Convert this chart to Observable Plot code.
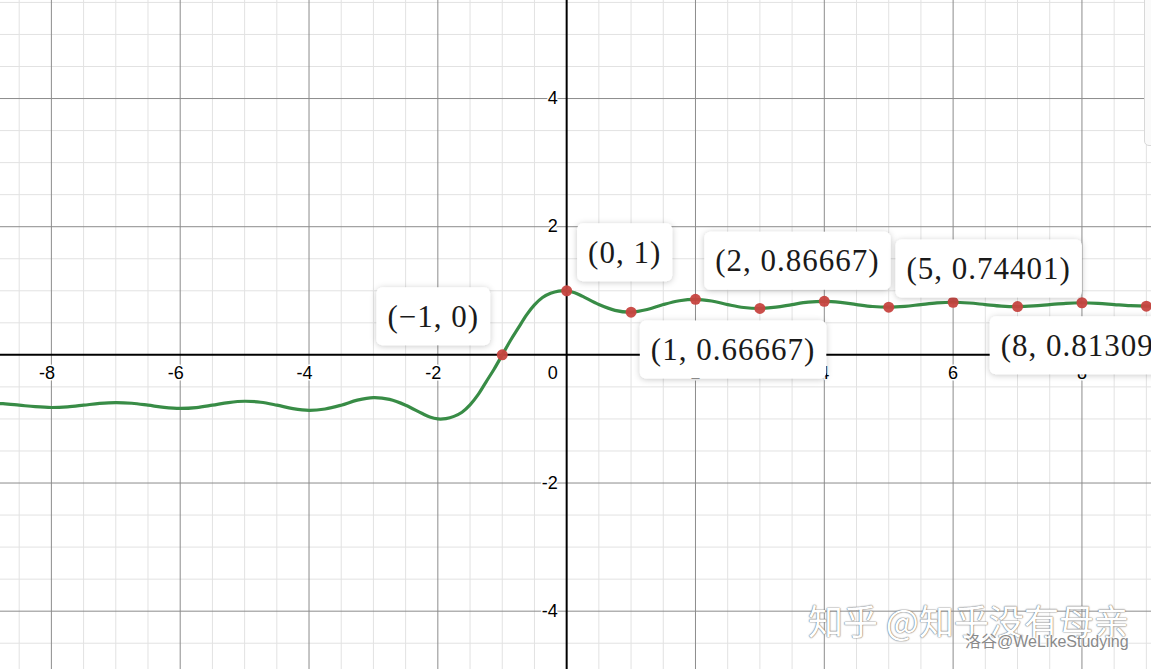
<!DOCTYPE html>
<html><head><meta charset="utf-8">
<script src="https://cdn.jsdelivr.net/npm/d3@7"></script>
<script src="https://cdn.jsdelivr.net/npm/@observablehq/plot@0.6"></script>
<style>
html,body{margin:0;padding:0;background:#fff;overflow:hidden;}
#chart{position:relative;width:1151px;height:669px;overflow:hidden;}
#chart svg{display:block;}
.wm-big{position:absolute;left:808px;top:602px;font-family:"Noto Sans CJK SC",sans-serif;font-size:35px;line-height:1;color:#fff;text-shadow:0 0 1.5px #555,0 0 1px #888;white-space:nowrap;}
.wm-small{position:absolute;left:965px;top:632px;font-family:"Liberation Sans","Noto Sans CJK SC",sans-serif;font-size:16px;line-height:1.2;color:#8a8a8a;text-shadow:0 0 2px #fff,0 0 2px #fff;white-space:nowrap;}
.sidebar{position:absolute;left:1144px;top:-6px;width:10px;height:150px;border:1px solid #d8d8d8;border-radius:5px;background:#fafafa;}
</style></head><body><div id="chart"></div>
<script>
// Curve samples
const curveX = [-9,-8.75,-8.5,-8.25,-8,-7.75,-7.5,-7.25,-7,-6.75,-6.5,-6.25,-6,-5.75,-5.5,-5.25,-5,-4.75,-4.5,-4.25,-4,-3.75,-3.5,-3.25,-3,-2.75,-2.5,-2.25,-2.125,-2,-1.875,-1.75,-1.625,-1.5,-1.375,-1.25,-1.125,-1,-0.875,-0.75,-0.625,-0.5,-0.375,-0.25,-0.125,0,0.125,0.25,0.5,0.75,1,1.25,1.5,1.75,2,2.25,2.5,2.75,3,3.25,3.5,3.75,4,4.25,4.5,4.75,5,5.25,5.5,5.75,6,6.25,6.5,6.75,7,7.25,7.5,7.75,8,8.25,8.5,8.75,9,9.25];
const curveY = [-0.754,-0.762,-0.785,-0.809,-0.821,-0.811,-0.785,-0.757,-0.744,-0.755,-0.785,-0.819,-0.835,-0.822,-0.785,-0.744,-0.724,-0.739,-0.785,-0.840,-0.867,-0.845,-0.785,-0.707,-0.667,-0.695,-0.785,-0.912,-0.97,-1.0,-0.995,-0.96,-0.895,-0.78,-0.62,-0.42,-0.22,0,0.22,0.42,0.62,0.78,0.895,0.96,0.995,1.0,0.97,0.912,0.785,0.695,0.667,0.707,0.785,0.845,0.867,0.840,0.785,0.739,0.724,0.744,0.785,0.822,0.835,0.819,0.785,0.755,0.744,0.757,0.785,0.811,0.821,0.809,0.785,0.762,0.754,0.764,0.785,0.805,0.813,0.804,0.785,0.767,0.760,0.768];

// Highlighted points
const pointX = [-1,0,1,2,3,4,5,6,7,8,9];
const pointY = [0,1,0.66667,0.86667,0.72381,0.83492,0.74401,0.82093,0.75427,0.81309,0.76046];

// Labelled points
const labelX = [-1,0,1,2,5,8];
const labelY = [0,1,0.66667,0.86667,0.74401,0.81309];
const labelText = ["(−1, 0)","(0, 1)","(1, 0.66667)","(2, 0.86667)","(5, 0.74401)","(8, 0.81309)"];

// Axis ticks
const xTicks = [-8,-6,-4,-2,2,4,6,8];
const xTickLabels = ["-8","-6","-4","-2","2","4","6","8"];
const yTicks = [-4,-2,2,4];
const yTickLabels = ["-4","-2","2","4"];
const xMajorGrid = [-8,-6,-4,-2,2,4,6,8];
const yMajorGrid = [-4,-2,2,4];
const xMinorGrid = d3.range(-8.5, 9.01, 0.5).filter(v => v % 2 !== 0);
const yMinorGrid = d3.range(-4.5, 5.51, 0.5).filter(v => v % 2 !== 0);

const curve = curveX.map((x, i) => ({x, y: curveY[i]}));
const points = pointX.map((x, i) => ({x, y: pointY[i]}));
const labels = labelX.map((x, i) => ({x, y: labelY[i], text: labelText[i]}));
const xt = xTicks.map((v, i) => ({v, t: xTickLabels[i]}));
const yt = yTicks.map((v, i) => ({v, t: yTickLabels[i]}));

// label placement (pixel offsets of the label centre from the point)
const placement = {"-1": [-69, -38], "0": [58, -38], "1": [102, 38], "2": [102, -38], "5": [100, -38], "8": [1, 43]};

const sans = "Arial, 'Liberation Sans', sans-serif";
const serif = "'Liberation Serif', 'Times New Roman', serif";
const tickStyle = {fontSize: 18, fontFamily: sans, fill: "#000", stroke: "#fff", strokeWidth: 3, paintOrder: "stroke"};

const plot = Plot.plot({
  width: 1151,
  height: 669,
  margin: 0,
  x: {domain: [-8.79, 9.08], axis: null},
  y: {domain: [-4.91, 5.53], axis: null},
  style: {background: "#fff", overflow: "hidden"},
  marks: [
    Plot.ruleX(xMinorGrid, {stroke: "#e2e2e2", strokeWidth: 1}),
    Plot.ruleY(yMinorGrid, {stroke: "#e2e2e2", strokeWidth: 1}),
    Plot.ruleX(xMajorGrid, {stroke: "#8c8c8c", strokeWidth: 1}),
    Plot.ruleY(yMajorGrid, {stroke: "#8c8c8c", strokeWidth: 1}),
    Plot.ruleX([0], {stroke: "#000", strokeWidth: 2}),
    Plot.ruleY([0], {stroke: "#000", strokeWidth: 2}),
    Plot.text(xt.filter(d => d.v < 0), {x: "v", y: () => 0, text: "t", dy: 18.5, dx: -4.5, ...tickStyle}),
    Plot.text(xt.filter(d => d.v > 0), {x: "v", y: () => 0, text: "t", dy: 18.5, ...tickStyle}),
    Plot.text(yt, {x: () => 0, y: "v", text: "t", dx: -9, textAnchor: "end", ...tickStyle}),
    Plot.text([0], {x: () => 0, y: () => 0, text: () => "0", dx: -14, dy: 18, ...tickStyle}),
    Plot.line(curve, {x: "x", y: "y", stroke: "#388c46", strokeWidth: 3.2, curve: "catmull-rom", clip: true}),
    Plot.dot(points, {x: "x", y: "y", r: 5.5, fill: "#c74440", fillOpacity: 0.95, stroke: "none"}),
    ...labels.map(d => Plot.text([d], {
      x: "x", y: "y", text: "text",
      dx: placement[d.x][0], dy: placement[d.x][1],
      fontSize: 31, fontFamily: serif, fill: "#1a1a1a",
      className: "ptlabel"
    }))
  ]
});

const chart = document.getElementById("chart");
chart.appendChild(plot);

// white rounded boxes with a soft shadow behind the point labels
const svg = d3.select(plot);
const defs = svg.insert("defs", ":first-child");
const f = defs.append("filter").attr("id", "lblshadow").attr("x", "-20%").attr("y", "-30%").attr("width", "140%").attr("height", "160%");
f.append("feDropShadow").attr("dx", 0).attr("dy", 1).attr("stdDeviation", 3).attr("flood-color", "#000").attr("flood-opacity", 0.22);
svg.selectAll("g.ptlabel text").each(function() {
  d3.select(this).style("letter-spacing", "1px");
  const bb = this.getBBox();
  const cy = bb.y + bb.height / 2;
  d3.select(this.parentNode).insert("rect", () => this)
    .attr("transform", this.getAttribute("transform"))
    .attr("x", bb.x - 11).attr("y", cy - 29)
    .attr("width", bb.width + 22).attr("height", 58)
    .attr("rx", 6).attr("fill", "#fff")
    .attr("filter", "url(#lblshadow)");
});

const bar = document.createElement("div"); bar.className = "sidebar"; chart.appendChild(bar);
const wm1 = document.createElement("div"); wm1.className = "wm-big"; wm1.textContent = "知乎 @知乎没有母亲"; chart.appendChild(wm1);
const wm2 = document.createElement("div"); wm2.className = "wm-small"; wm2.textContent = "洛谷@WeLikeStudying"; chart.appendChild(wm2);
</script></body></html>
